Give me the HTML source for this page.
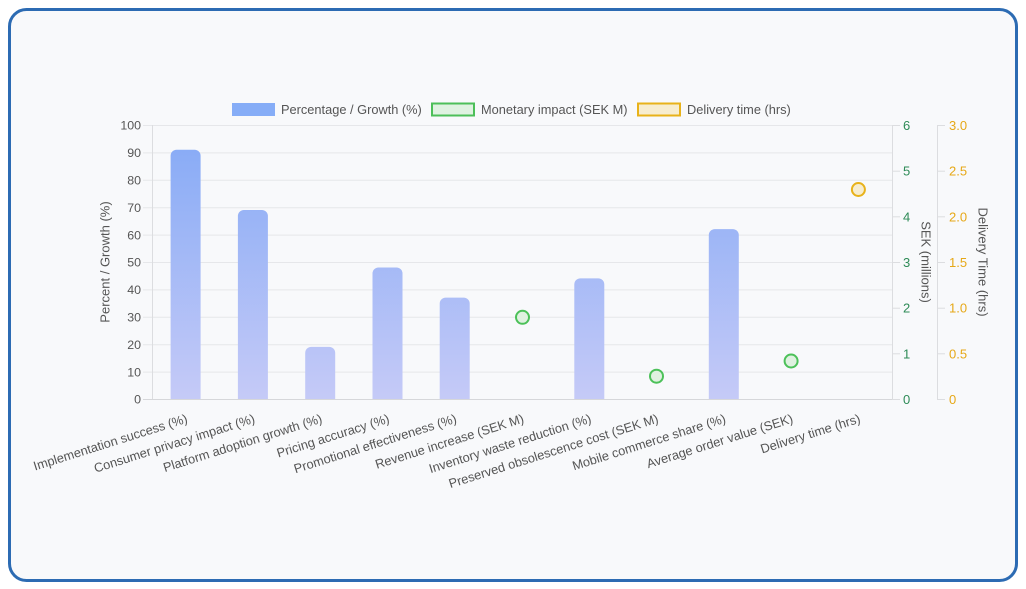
<!DOCTYPE html>
<html>
<head>
<meta charset="utf-8">
<style>
  html, body { margin: 0; padding: 0; background: #ffffff; }
  body { width: 1026px; height: 589px; overflow: hidden; }
  svg { display: block; }
  text { font-family: "Liberation Sans", Arial, sans-serif; }
</style>
</head>
<body>
<svg width="1026" height="589" viewBox="0 0 1026 589" xmlns="http://www.w3.org/2000/svg">
  <defs>
    <linearGradient id="barg" gradientUnits="userSpaceOnUse" x1="0" y1="125" x2="0" y2="399">
      <stop offset="0" stop-color="#84a9f6"/>
      <stop offset="1" stop-color="#c5caf7"/>
    </linearGradient>
  </defs>

  <!-- card -->
  <rect x="9.5" y="9.5" width="1007" height="571" rx="17" ry="17" fill="#f8f9fb" stroke="#2c6bb3" stroke-width="3"/>

  <!-- legend -->
  <rect x="232" y="103" width="43" height="13" fill="#86adf7"/>
  <text x="281" y="113.8" font-size="12.8" fill="#555">Percentage / Growth (%)</text>
  <rect x="432" y="103.5" width="42" height="12" fill="#dff2e1" stroke="#4cbf59" stroke-width="2"/>
  <text x="481" y="113.8" font-size="12.8" fill="#555">Monetary impact (SEK M)</text>
  <rect x="638" y="103.5" width="42" height="12" fill="#f7edcf" stroke="#e8b21a" stroke-width="2"/>
  <text x="687" y="113.8" font-size="12.8" fill="#555">Delivery time (hrs)</text>

  <!-- horizontal grid lines (left axis) -->
  <g stroke="#e6e7ea" stroke-width="1">
    <line x1="143" y1="125.5" x2="892" y2="125.5"/>
    <line x1="143" y1="152.9" x2="892" y2="152.9"/>
    <line x1="143" y1="180.3" x2="892" y2="180.3"/>
    <line x1="143" y1="207.7" x2="892" y2="207.7"/>
    <line x1="143" y1="235.1" x2="892" y2="235.1"/>
    <line x1="143" y1="262.5" x2="892" y2="262.5"/>
    <line x1="143" y1="289.9" x2="892" y2="289.9"/>
    <line x1="143" y1="317.3" x2="892" y2="317.3"/>
    <line x1="143" y1="344.7" x2="892" y2="344.7"/>
    <line x1="143" y1="372.1" x2="892" y2="372.1"/>
  </g>
  <!-- axes lines -->
  <line x1="152.5" y1="125" x2="152.5" y2="399" stroke="#dcdde0" stroke-width="1"/>
  <line x1="143" y1="399.5" x2="892" y2="399.5" stroke="#d6d7da" stroke-width="1"/>
  <line x1="892.5" y1="125" x2="892.5" y2="400" stroke="#dcdde0" stroke-width="1"/>
  <line x1="937.5" y1="125" x2="937.5" y2="400" stroke="#dcdde0" stroke-width="1"/>

  <!-- right tick marks -->
  <g stroke="#dcdde0" stroke-width="1">
    <line x1="892" y1="125.5" x2="900" y2="125.5"/>
    <line x1="892" y1="171.2" x2="900" y2="171.2"/>
    <line x1="892" y1="216.8" x2="900" y2="216.8"/>
    <line x1="892" y1="262.5" x2="900" y2="262.5"/>
    <line x1="892" y1="308.2" x2="900" y2="308.2"/>
    <line x1="892" y1="353.8" x2="900" y2="353.8"/>
    <line x1="892" y1="399.5" x2="900" y2="399.5"/>
    <line x1="937" y1="125.5" x2="945" y2="125.5"/>
    <line x1="937" y1="171.2" x2="945" y2="171.2"/>
    <line x1="937" y1="216.8" x2="945" y2="216.8"/>
    <line x1="937" y1="262.5" x2="945" y2="262.5"/>
    <line x1="937" y1="308.2" x2="945" y2="308.2"/>
    <line x1="937" y1="353.8" x2="945" y2="353.8"/>
    <line x1="937" y1="399.5" x2="945" y2="399.5"/>
  </g>

  <!-- left tick labels -->
  <g font-size="12.4" fill="#555" text-anchor="end">
    <text x="141" y="129.7">100</text>
    <text x="141" y="157.1">90</text>
    <text x="141" y="184.5">80</text>
    <text x="141" y="211.9">70</text>
    <text x="141" y="239.3">60</text>
    <text x="141" y="266.7">50</text>
    <text x="141" y="294.1">40</text>
    <text x="141" y="321.5">30</text>
    <text x="141" y="348.9">20</text>
    <text x="141" y="376.3">10</text>
    <text x="141" y="403.7">0</text>
  </g>

  <!-- right tick labels (SEK) -->
  <g font-size="13" fill="#2e8b57">
    <text x="903" y="130">6</text>
    <text x="903" y="175.7">5</text>
    <text x="903" y="221.3">4</text>
    <text x="903" y="267">3</text>
    <text x="903" y="312.7">2</text>
    <text x="903" y="358.3">1</text>
    <text x="903" y="404">0</text>
  </g>
  <!-- right tick labels (hrs) -->
  <g font-size="13" fill="#e6a817">
    <text x="949" y="130">3.0</text>
    <text x="949" y="175.7">2.5</text>
    <text x="949" y="221.3">2.0</text>
    <text x="949" y="267">1.5</text>
    <text x="949" y="312.7">1.0</text>
    <text x="949" y="358.3">0.5</text>
    <text x="949" y="404">0</text>
  </g>

  <!-- axis titles -->
  <text transform="translate(105,262) rotate(-90)" font-size="13" fill="#555" text-anchor="middle" dominant-baseline="central">Percent / Growth (%)</text>
  <text transform="translate(926,262) rotate(90)" font-size="13" fill="#555" text-anchor="middle" dominant-baseline="central">SEK (millions)</text>
  <text transform="translate(983,262) rotate(90)" font-size="13" fill="#555" text-anchor="middle" dominant-baseline="central">Delivery Time (hrs)</text>

  <!-- bars -->
  <g fill="url(#barg)">
    <path d="M170.6,399 V155.7 A6,6 0 0 1 176.6,149.7 H194.6 A6,6 0 0 1 200.6,155.7 V399 Z"/>
    <path d="M237.9,399 V216 A6,6 0 0 1 243.9,210 H261.9 A6,6 0 0 1 267.9,216 V399 Z"/>
    <path d="M305.2,399 V352.9 A6,6 0 0 1 311.2,346.9 H329.2 A6,6 0 0 1 335.2,352.9 V399 Z"/>
    <path d="M372.5,399 V273.5 A6,6 0 0 1 378.5,267.5 H396.5 A6,6 0 0 1 402.5,273.5 V399 Z"/>
    <path d="M439.7,399 V303.6 A6,6 0 0 1 445.7,297.6 H463.7 A6,6 0 0 1 469.7,303.6 V399 Z"/>
    <path d="M574.3,399 V284.4 A6,6 0 0 1 580.3,278.4 H598.3 A6,6 0 0 1 604.3,284.4 V399 Z"/>
    <path d="M708.8,399 V235.1 A6,6 0 0 1 714.8,229.1 H732.8 A6,6 0 0 1 738.8,235.1 V399 Z"/>
  </g>

  <!-- points -->
  <g fill="#dff1e0" stroke="#4cc159" stroke-width="2">
    <circle cx="522.5" cy="317.3" r="6.5"/>
    <circle cx="656.5" cy="376.2" r="6.5"/>
    <circle cx="791.1" cy="361" r="6.5"/>
  </g>
  <circle cx="858.4" cy="189.5" r="6.5" fill="#f7edcf" stroke="#e8b21a" stroke-width="2"/>

  <!-- x labels -->
  <g font-size="12.8" fill="#555" text-anchor="end" dominant-baseline="central">
    <text transform="translate(187,418) rotate(-17.5)">Implementation success (%)</text>
    <text transform="translate(254.3,418) rotate(-17.5)">Consumer privacy impact (%)</text>
    <text transform="translate(321.6,418) rotate(-17.5)">Platform adoption growth (%)</text>
    <text transform="translate(388.9,418) rotate(-17.5)">Pricing accuracy (%)</text>
    <text transform="translate(456.1,418) rotate(-17.5)">Promotional effectiveness (%)</text>
    <text transform="translate(523.4,418) rotate(-17.5)">Revenue increase (SEK M)</text>
    <text transform="translate(590.7,418) rotate(-17.5)">Inventory waste reduction (%)</text>
    <text transform="translate(657.9,418) rotate(-17.5)">Preserved obsolescence cost (SEK M)</text>
    <text transform="translate(725.2,418) rotate(-17.5)">Mobile commerce share (%)</text>
    <text transform="translate(792.5,418) rotate(-17.5)">Average order value (SEK)</text>
    <text transform="translate(859.8,418) rotate(-17.5)">Delivery time (hrs)</text>
  </g>
</svg>
</body>
</html>
